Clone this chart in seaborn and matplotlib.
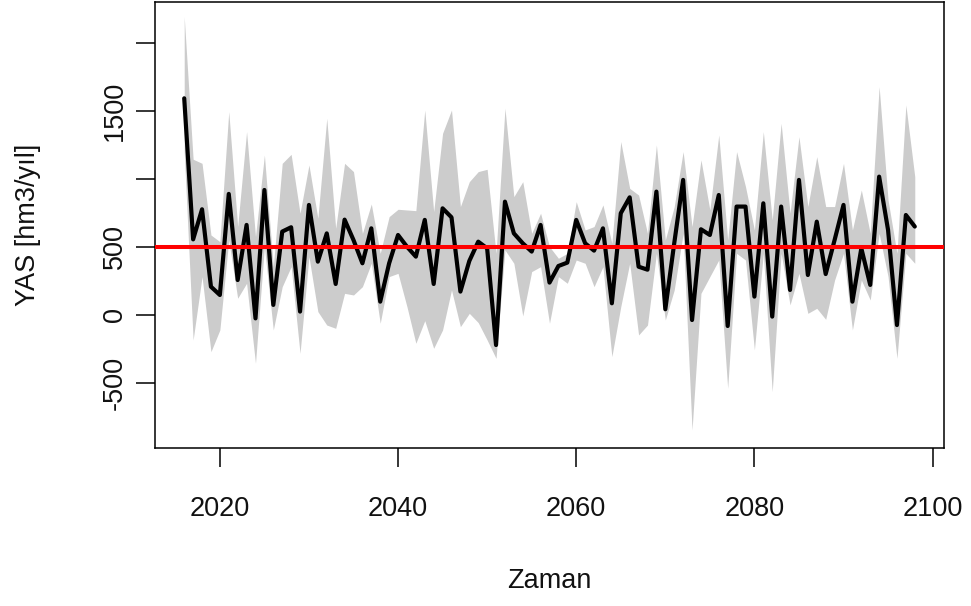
import numpy as np
import pandas as pd
import matplotlib
matplotlib.use("Agg")
import matplotlib.pyplot as plt
import seaborn as sns

# Years of the projection
years = list(range(2016, 2099))

# Projected annual water yield (hm3/yıl)
yas = [
    1593, 556, 777, 208, 147, 890, 257, 662, -25, 919,
    74, 613, 645, 25, 809, 392, 600, 228, 701, 551,
    380, 637, 98, 380, 588, 502, 429, 699, 228, 784,
    718, 172, 397, 539, 490, -221, 833, 600, 527, 466,
    662, 238, 360, 385, 699, 527, 473, 637, 86, 748,
    865, 355, 333, 907, 42, 527, 993, -37, 630, 588,
    882, -81, 797, 797, 135, 821, -12, 797, 184, 993,
    294, 686, 301, 551, 809, 98, 490, 221, 1017, 625,
    -74, 735, 650,
]

# Upper and lower bounds of the uncertainty band
yas_upper = [
    2194, 1145, 1115, 588, 539, 1495, 650, 1348, 576, 1176,
    355, 1115, 1181, 748, 1103, 711, 1446, 637, 1115, 1054,
    600, 816, 453, 723, 777, 772, 767, 1507, 760, 1336,
    1507, 797, 980, 1054, 1071, 453, 1520, 870, 980, 600,
    748, 502, 417, 453, 833, 625, 650, 809, 527, 1275,
    931, 882, 600, 1250, 551, 797, 1201, 650, 1140, 772,
    1324, 551, 1201, 944, 625, 1348, 699, 1409, 748, 1311,
    797, 1164, 797, 797, 1115, 625, 919, 600, 1679, 846,
    453, 1544, 1017,
]
yas_lower = [
    1200, -184, 282, -270, -110, 551, 123, 233, -355, 502,
    -110, 208, 355, -282, 429, 25, -74, -98, 159, 147,
    208, 380, -61, 282, 306, 61, -208, -42, -245, -110,
    184, -86, 12, -56, -184, -319, 478, 380, -7, 319,
    355, -61, 282, 233, 404, 380, 208, 355, -306, 61,
    380, -147, -74, 453, -37, 184, 600, -846, 159, 282,
    404, -539, 453, 404, -257, 453, -564, 453, 74, 306,
    12, 49, -32, 257, 453, -110, 257, 110, 600, 282,
    -319, 453, 380,
]

# Reference level
ref_level = 500

# Axis ticks
x_ticks = [2020, 2040, 2060, 2080, 2100]
y_ticks = [-500, 0, 500, 1000, 1500, 2000]
y_tick_labels = ["-500", "0", "500", "", "1500", ""]

df = pd.DataFrame({"Zaman": years, "YAS": yas, "alt": yas_lower, "ust": yas_upper})

sns.set_theme(style="white")
plt.rcParams["font.family"] = ["Liberation Sans", "DejaVu Sans"]

fig = plt.figure(figsize=(9.71, 6.06), dpi=100)
ax = fig.add_axes([155 / 971, 1 - 448 / 606, 789 / 971, 446 / 606])

ax.fill_between(df["Zaman"], df["alt"], df["ust"], color="#cccccc", linewidth=0, zorder=1)
sns.lineplot(data=df, x="Zaman", y="YAS", color="black", linewidth=3.0, ax=ax, zorder=2)
ax.axhline(ref_level, color="#ff0000", linewidth=2.9, zorder=3)

ax.set_xlim(2012.72, 2101.28)
ax.set_ylim(-978, 2301)
ax.set_xticks(x_ticks)
ax.set_yticks(y_ticks)
ax.set_yticklabels(y_tick_labels, rotation=90, va="center")

for s in ax.spines.values():
    s.set_color("black")
    s.set_linewidth(1.1)

ax.tick_params(axis="both", which="major", direction="out", length=13.7, width=1.1,
               color="black", labelsize=19.5, labelcolor="#111111",
               bottom=True, left=True)
ax.tick_params(axis="x", pad=21)
ax.tick_params(axis="y", pad=6)

ax.set_xlabel("Zaman", fontsize=19.5, color="#111111")
ax.set_ylabel("YAS [hm3/yıl]", fontsize=19.5, color="#111111")
ax.xaxis.set_label_coords(0.5, -0.27)
ax.yaxis.set_label_coords(-0.145, 0.5)

fig.savefig("out.png", dpi=100, facecolor="white")
